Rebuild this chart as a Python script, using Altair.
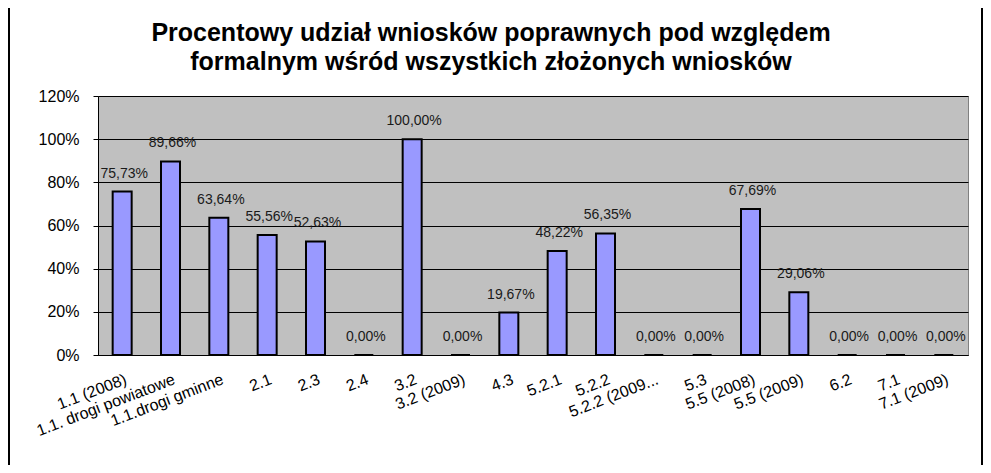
import altair as alt
import pandas as pd

categories = ["1.1 (2008)", "1.1. drogi powiatowe", "1.1.drogi gminne", "2.1", "2.3", "2.4",
              "3.2", "3.2 (2009)", "4.3", "5.2.1", "5.2.2", "5.2.2 (2009...", "5.3",
              "5.5 (2008)", "5.5 (2009)", "6.2", "7.1", "7.1 (2009)"]
values = [75.73, 89.66, 63.64, 55.56, 52.63, 0.0, 100.0, 0.0, 19.67, 48.22, 56.35, 0.0, 0.0,
          67.69, 29.06, 0.0, 0.0, 0.0]
y_ticks = [0, 20, 40, 60, 80, 100, 120]
title_lines = ["Procentowy udział wniosków poprawnych pod względem",
               "formalnym wśród wszystkich złożonych wniosków"]

df = pd.DataFrame({"cat": categories, "val": values})
df["label"] = [f"{v:.2f}".replace(".", ",") + "%" for v in values]

FONT = "Liberation Sans"
W, H = 870, 259

x = alt.X("cat:N", sort=categories, title=None,
          scale=alt.Scale(paddingInner=0, paddingOuter=0),
          axis=alt.Axis(labelAngle=-21, labelAlign="right", labelBaseline="top",
                        labelFont=FONT, labelFontSize=16, labelColor="black",
                        labelPadding=16, ticks=False, domainColor="black",
                        domainWidth=1, grid=False, labelOverlap=False,
                        labelLimit=300, labelOffset=1))
y = alt.Y("val:Q", title=None,
          scale=alt.Scale(domain=[0, 120], nice=False),
          axis=alt.Axis(values=y_ticks, labelExpr="datum.value + '%'",
                        labelFont=FONT, labelFontSize=16, labelColor="black",
                        labelPadding=14, tickSize=5, tickColor="black",
                        domainColor="black", gridColor="black", gridWidth=1,
                        gridOpacity=1))

bars = alt.Chart(df).mark_bar(color="#9999FF", stroke="black", strokeWidth=2,
                              size=19).encode(x=x, y=y)

labels = alt.Chart(df).mark_text(font=FONT, fontSize=14, color="#1a1a1a",
                                 baseline="middle", dy=-18, dx=2).encode(
    x=alt.X("cat:N", sort=categories), y="val:Q", text="label:N")

border_l = alt.Chart(df).mark_rule(color="black", strokeWidth=2).encode(
    x=alt.value(-89), y=alt.value(-88), y2=alt.value(H + 110))
border_r = alt.Chart(df).mark_rule(color="black", strokeWidth=2).encode(
    x=alt.value(W + 14), y=alt.value(-88), y2=alt.value(H + 110))

chart = alt.layer(bars, labels, border_l, border_r).properties(
    width=W, height=H,
    title=alt.TitleParams(text=title_lines, font=FONT, fontSize=25, fontWeight="bold",
                          color="black", anchor="middle", dx=-42, offset=-68,
                          lineHeight=29),
    autosize=alt.AutoSizeParams(type="none"),
    padding={"left": 90, "top": 88, "right": 15, "bottom": 110},
).configure(background="white").configure_view(
    fill="#C0C0C0", stroke="#808080", strokeWidth=1)

chart.save("out.html", embed_options={"renderer": "svg", "actions": False})
